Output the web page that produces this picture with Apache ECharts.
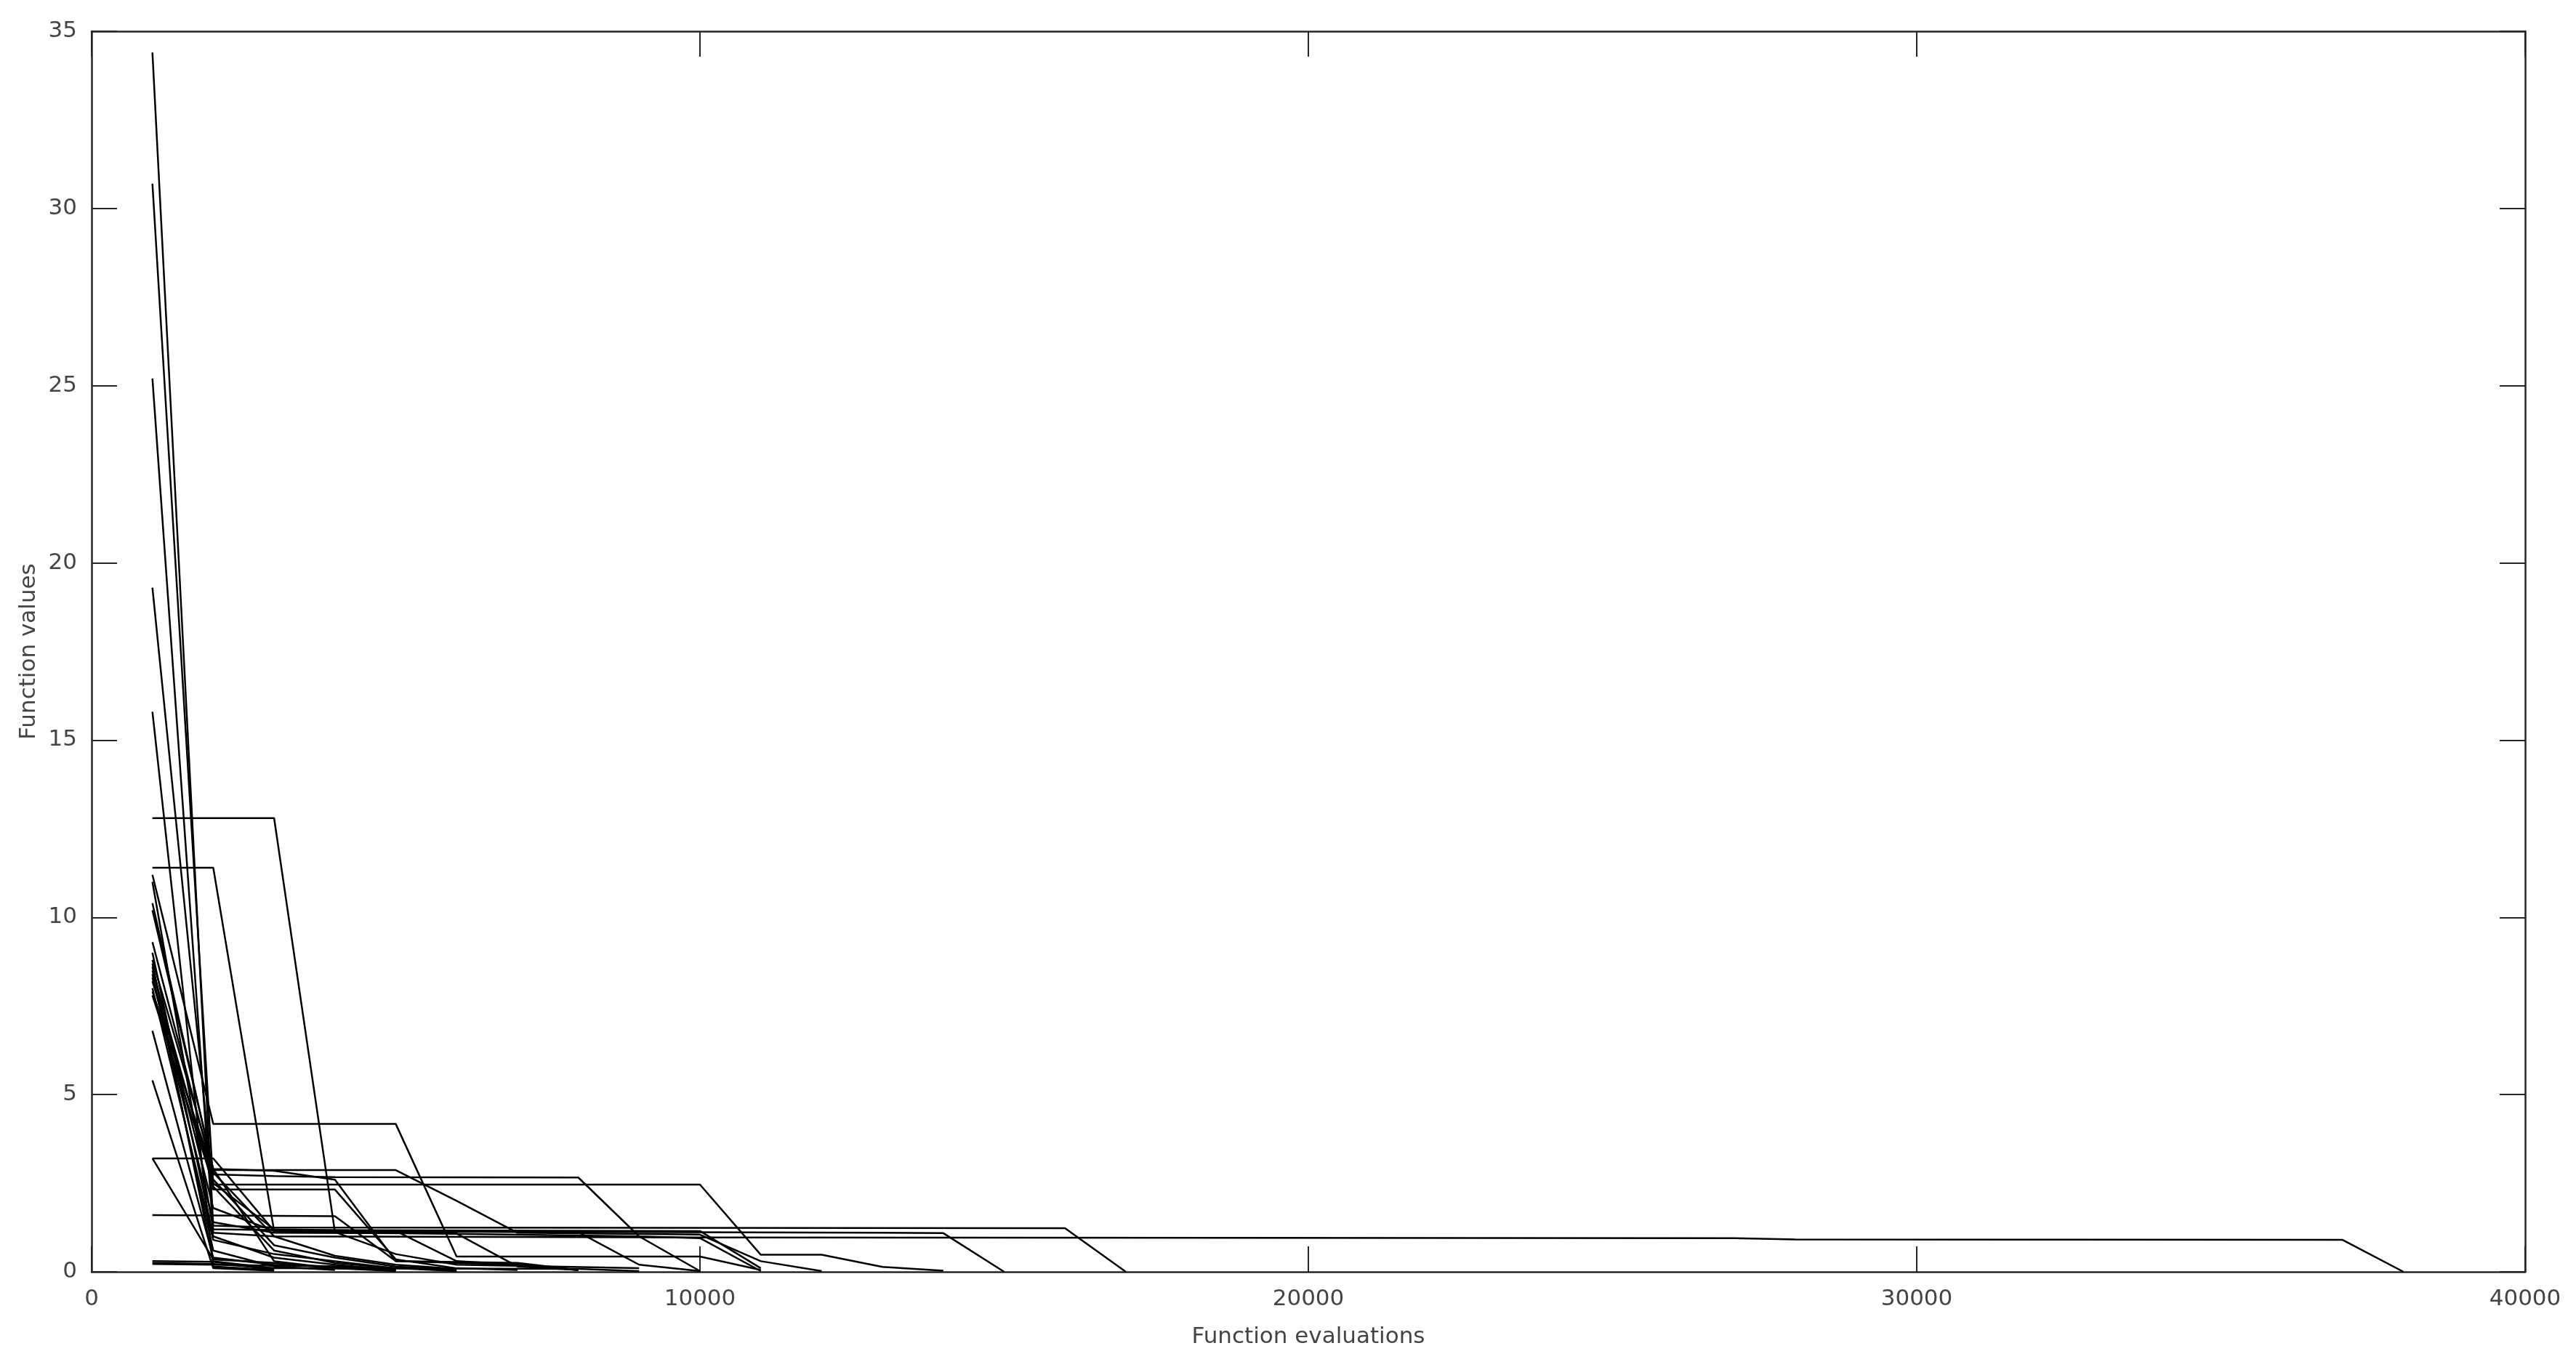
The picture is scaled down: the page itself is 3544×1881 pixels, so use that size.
<!DOCTYPE html>
<html>
<head>
<meta charset="utf-8">
<script src="https://cdn.jsdelivr.net/npm/echarts@6/dist/echarts.min.js"></script>
<style>
html,body{margin:0;padding:0;background:#fff;}
#chart{width:3544px;height:1881px;}
</style>
</head>
<body>
<div id="chart"></div>
<script>
// Axis ticks
const xTicks = [0, 10000, 20000, 30000, 40000];
const yTicks = [0, 5, 10, 15, 20, 25, 30, 35];
const xTitle = 'Function evaluations';
const yTitle = 'Function values';

// Each run: [function evaluations, function value] at the visible breakpoints
const run01 = [[1000,34.4],[2000,1.3],[3000,1.25],[16000,1.23],[17000,0]];
const run02 = [[1000,30.7],[2000,2.46],[10000,2.46],[11000,0.48],[12000,0.48],[13000,0.14],[14000,0.03]];
const run03 = [[1000,25.2],[2000,1.1],[3000,1.0],[10000,0.97],[27000,0.95],[28000,0.91],[37000,0.9],[38000,0]];
const run04 = [[1000,19.3],[2000,2.32],[4000,2.32],[5000,0.35],[6000,0.1],[7000,0.05]];
const run05 = [[1000,15.8],[2000,0.15],[3000,0.05]];
const run06 = [[1000,12.8],[3000,12.8],[4000,1.12],[9000,1.0],[10000,0.02]];
const run07 = [[1000,11.4],[2000,11.4],[3000,1.15],[13000,1.1],[14000,1.09],[15000,0]];
const run08 = [[1000,11.2],[2000,4.17],[5000,4.17],[6000,0.43],[10000,0.43],[11000,0.05]];
const run09 = [[1000,10.4],[2000,2.87],[5000,2.87],[6000,2.0],[7000,1.1],[10000,1.05],[11000,0.3],[12000,0.02]];
const run10 = [[1000,9.3],[2000,2.75],[3000,2.7],[4000,2.67],[8000,2.66],[9000,1.0],[10000,0.95],[11000,0.02]];
const run11 = [[1000,8.8],[2000,2.9],[3000,0.3],[4000,0.1],[5000,0.02]];
const run12 = [[1000,8.6],[2000,1.8],[3000,1.15],[8000,1.12],[9000,0.2],[10000,0.02]];
const run13 = [[1000,8.4],[2000,0.6],[3000,0.15],[4000,0.05]];
const run14 = [[1000,8.2],[2000,2.6],[3000,0.75],[4000,0.4],[5000,0.15],[6000,0.05]];
const run15 = [[1000,8.0],[2000,0.9],[3000,0.5],[4000,0.3],[5000,0.1]];
const run16 = [[1000,7.8],[2000,2.5],[3000,1.2],[5000,1.15],[6000,0.3],[7000,0.2],[8000,0.05]];
const run17 = [[1000,6.8],[2000,0.4],[3000,0.2],[5000,0.1],[6000,0.02]];
const run18 = [[1000,5.4],[2000,0.1],[3000,0.03]];
const run19 = [[1000,3.2],[2000,3.2],[3000,1.15],[4000,1.12],[5000,0.5],[6000,0.2],[9000,0.1]];
const run20 = [[1000,3.2],[2000,0.35],[3000,0.25],[4000,0.1],[5000,0.05]];
const run21 = [[1000,1.6],[4000,1.57],[5000,0.3],[7000,0.2],[8000,0.05]];
const run22 = [[1000,0.3],[2000,0.28],[3000,0.05]];
const run23 = [[1000,0.25],[2000,0.22],[3000,0.1],[8000,0.08],[9000,0.02]];
const run24 = [[1000,0.22],[2000,0.2],[4000,0.15],[5000,0.05]];
const run25 = [[1000,10.2],[2000,2.9],[3000,2.85],[4000,2.6],[5000,0.3],[7000,0.25],[8000,0.05]];
const run26 = [[1000,11.0],[2000,1.2],[3000,1.18],[10000,1.15],[11000,0.1]];
const run27 = [[1000,8.7],[2000,0.3],[3000,0.1]];
const run28 = [[1000,8.5],[2000,2.4],[3000,0.6],[4000,0.25],[5000,0.1]];
const run29 = [[1000,8.3],[2000,1.4],[3000,1.1],[6000,1.08],[7000,0.15],[8000,0.05]];
const run30 = [[1000,7.9],[2000,2.8],[3000,1.0],[4000,0.45],[5000,0.2],[6000,0.08]];
const run31 = [[1000,9.0],[2000,1.0],[3000,0.4],[4000,0.2],[5000,0.05]];

const runs = [run01,run02,run03,run04,run05,run06,run07,run08,run09,run10,
  run11,run12,run13,run14,run15,run16,run17,run18,run19,run20,
  run21,run22,run23,run24,run25,run26,run27,run28,run29,run30,run31];

const FONT = 'DejaVu Sans';
const TXT = '#444';
const AX = '#262626';

const chart = echarts.init(document.getElementById('chart'), null, {renderer:'canvas'});

const tickCommon = {show:true, inside:true, length:35, lineStyle:{color:AX, width:2}};
const lineCommon = {show:true, onZero:false, lineStyle:{color:AX, width:2.5}};

const option = {
  animation:false,
  backgroundColor:'#fff',
  grid:{left:126, right:70, top:43, bottom:131, containLabel:false},
  xAxis:[{
    type:'value', min:xTicks[0], max:xTicks[xTicks.length-1], interval:xTicks[1]-xTicks[0],
    position:'bottom',
    axisLine:lineCommon, axisTick:tickCommon, splitLine:{show:false},
    axisLabel:{color:TXT, fontFamily:FONT, fontSize:31, margin:22, formatter:(v)=>String(v)},
    name:xTitle, nameLocation:'middle', nameGap:74,
    nameTextStyle:{color:TXT, fontFamily:FONT, fontSize:31}
  },{
    type:'value', min:xTicks[0], max:xTicks[xTicks.length-1], interval:xTicks[1]-xTicks[0],
    position:'top',
    axisLine:lineCommon, axisTick:tickCommon, splitLine:{show:false},
    axisLabel:{show:false}
  }],
  yAxis:[{
    type:'value', min:yTicks[0], max:yTicks[yTicks.length-1], interval:yTicks[1]-yTicks[0],
    position:'left',
    axisLine:lineCommon, axisTick:tickCommon, splitLine:{show:false},
    axisLabel:{color:TXT, fontFamily:FONT, fontSize:31, margin:20, formatter:(v)=>String(v)},
    name:yTitle, nameLocation:'middle', nameGap:70,
    nameTextStyle:{color:TXT, fontFamily:FONT, fontSize:31}
  },{
    type:'value', min:yTicks[0], max:yTicks[yTicks.length-1], interval:yTicks[1]-yTicks[0],
    position:'right',
    axisLine:lineCommon, axisTick:tickCommon, splitLine:{show:false},
    axisLabel:{show:false}
  }],
  series: runs.map((r, i) => ({
    type:'line', name:'run'+(i+1), data:r, xAxisIndex:0, yAxisIndex:0,
    showSymbol:false, symbol:'none', silent:true,
    lineStyle:{color:'#000', width:2.5}
  }))
};
chart.setOption(option);
</script>
</body>
</html>
